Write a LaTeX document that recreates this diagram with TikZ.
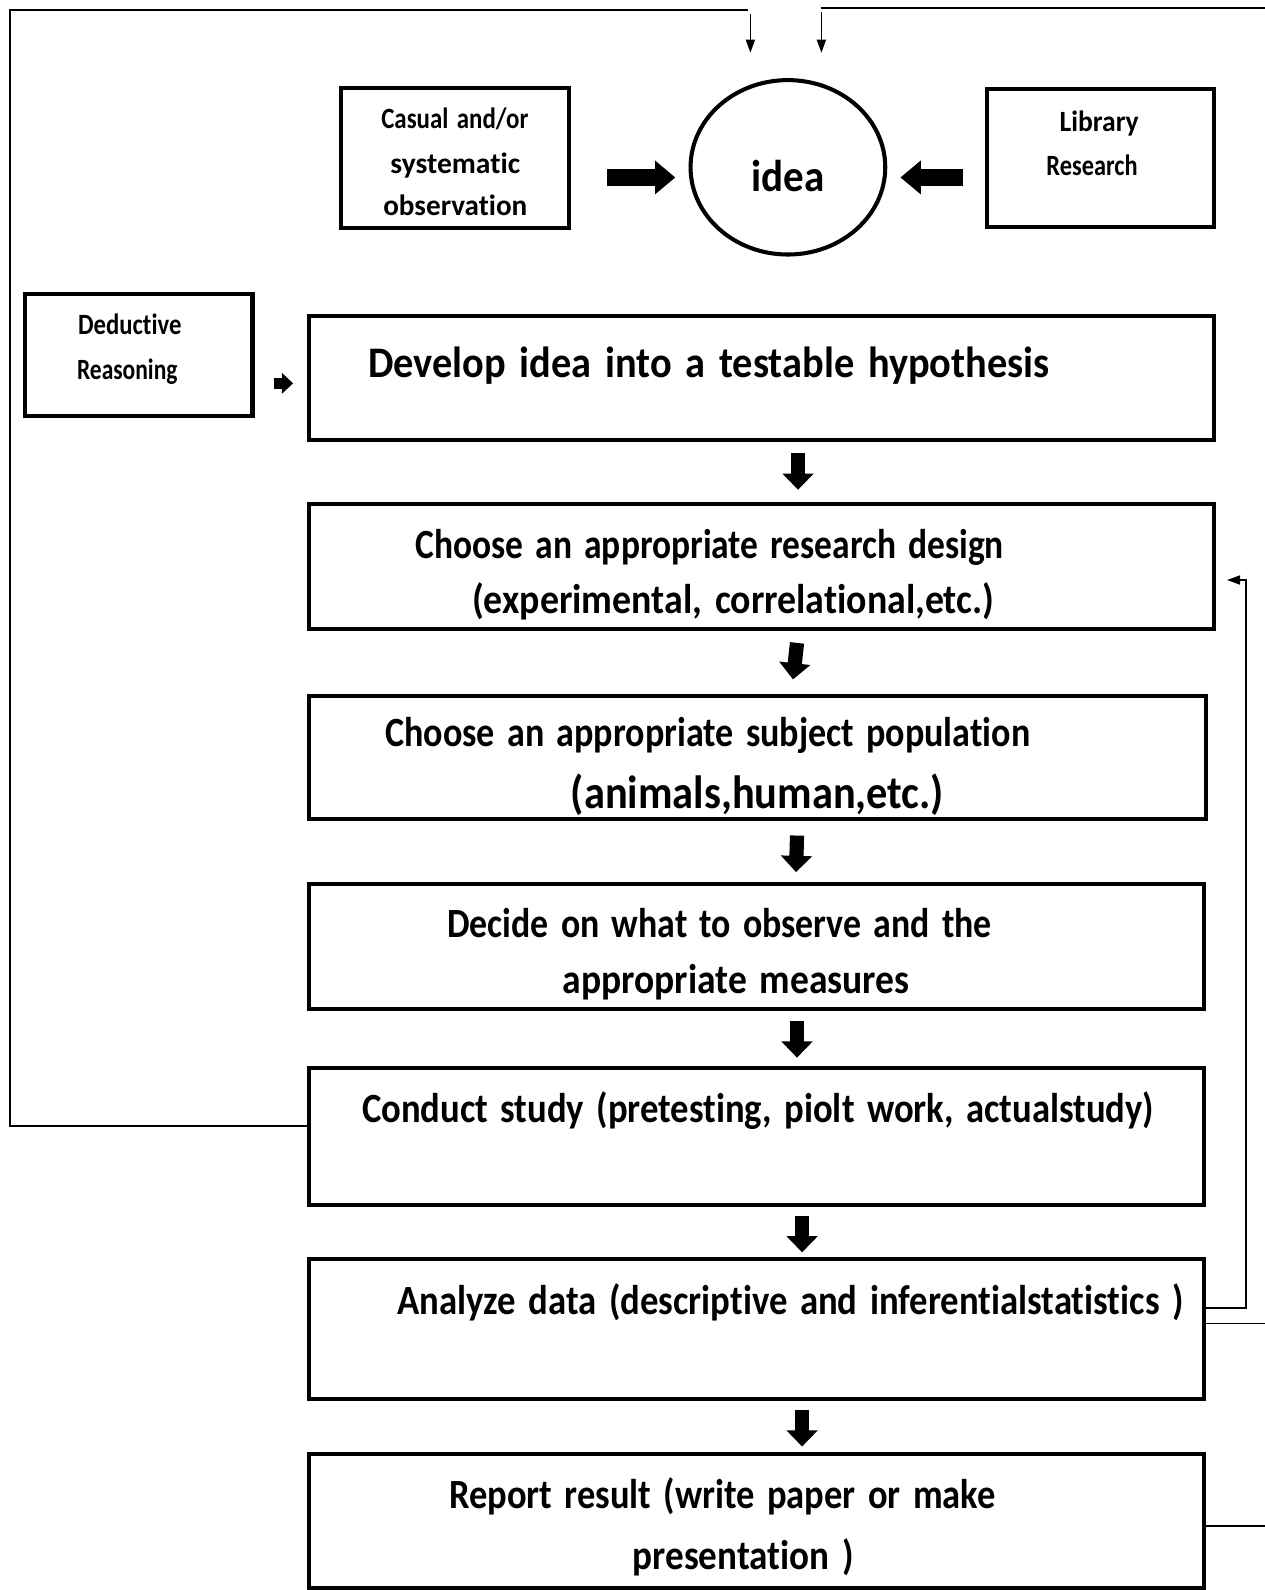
\documentclass[tikz,border=0pt]{standalone}
\usepackage{fontspec}
\setmainfont[Ligatures=NoCommon,WordSpace=1.5]{Carlito}
\usetikzlibrary{arrows.meta,calc,shapes.geometric}
\newcommand{\rw}[2]{\resizebox{#1pt}{\height}{#2}}
\begin{document}
\begin{tikzpicture}[x=1pt,y=-1pt,
 box/.style={draw,line width=4pt,inner sep=0pt},
 thinline/.style={line width=1.6pt},
 tarrow/.style={line width=1.6pt,-{Triangle[width=9pt,length=13pt]}},
 blk/.style={line width=14pt,-{Triangle[width=30pt,length=16pt]}},
 blkh/.style={line width=16pt,-{Triangle[width=32pt,length=20pt]}},
 blks/.style={line width=11pt,-{Triangle[width=20pt,length=11pt]}},
 txt/.style={font=\bfseries\fontsize{#1}{#1}\selectfont, inner sep=0pt, anchor=base},
]
\useasboundingbox (0,0) rectangle (1247,1568);
% boxes
\node[box, minimum width=225pt, minimum height=138pt] (cas) at (448.5,156) {};
\node[box, minimum width=224pt, minimum height=136pt] (lib) at (1085,156) {};
\node[box, minimum width=224pt, minimum height=120pt] (ded) at (137,350) {};
\node[draw, line width=4pt, ellipse, inner sep=0pt, minimum width=192pt, minimum height=172pt] (idea) at (777,165) {};
\node[box, minimum width=892pt, minimum height=122pt] (b1) at (751,373) {};
\node[box, minimum width=892pt, minimum height=123pt] (b2) at (751,558.5) {};
\node[box, minimum width=884pt, minimum height=122pt] (b3) at (747,747) {};
\node[box, minimum width=882pt, minimum height=123pt] (b4) at (746,933.5) {};
\node[box, minimum width=882pt, minimum height=135pt] (b5) at (746,1120.5) {};
\node[box, minimum width=882pt, minimum height=138pt] (b6) at (746,1311) {};
\node[box, minimum width=882pt, minimum height=133pt] (b7) at (746,1500) {};
% texts
\node[txt=29] (t1) at (448.5,127) {\rw{145}{Casual and/or}};
\node[txt=29] (t2) at (449,171) {\rw{128}{systematic}};
\node[txt=29] (t3) at (449,213) {\rw{142}{observation}};
\node[txt=29] (t4) at (1084,130) {\rw{78}{Library}};
\node[txt=29] (t5) at (1077,173) {\rw{90}{Research}};
\node[txt=29] (t6) at (128,330) {\rw{102}{Deductive}};
\node[txt=29] (t7) at (125.5,374) {\rw{99}{Reasoning}};
\node[txt=44] (t8) at (777,189) {\rw{72}{idea}};
\node[txt=43] (t9) at (699,372) {\rw{672}{Develop idea into a testable hypothesis}};
\node[txt=41] (t10) at (700,551) {\rw{580}{Choose an appropriate research design}};
\node[txt=41] (t11) at (723,605) {\rw{515}{(experimental, correlational,etc.)}};
\node[txt=41] (t12) at (698,736) {\rw{636}{Choose an appropriate subject population}};
\node[txt=46] (t13) at (747,797) {\rw{368}{(animals,human,etc.)}};
\node[txt=41] (t14) at (709.5,925) {\rw{537}{Decide on what to observe and the}};
\node[txt=41] (t15) at (726,980) {\rw{342}{appropriate measures}};
\node[txt=41] (t16) at (747.5,1107) {\rw{781}{Conduct study (pretesting, piolt work, actualstudy)}};
\node[txt=41] (t17) at (779.5,1296) {\rw{775}{Analyze data (descriptive and inferentialstatistics )}};
\node[txt=41] (t18) at (712.5,1488) {\rw{539}{Report result (write paper or make}};
\node[txt=41] (t19) at (733,1548) {\rw{218}{presentation )}};
% connectors
\coordinate (la) at (740,14);
\coordinate (lb) at (740,52);
\coordinate (ra) at (810,12);
\coordinate (rb) at (810,52);
\draw[thinline] ([yshift=10pt]b5.west) -| (10,10) -- (738,10);
\draw[tarrow] (la) -- (lb);
\draw[thinline] (810,8) -- (1247,8);
\draw[tarrow] (ra) -- (rb);
\draw[tarrow] ([yshift=21pt]b6.east) -| (1229,572) -- (1210,572);
\draw[thinline] ([yshift=6pt]b6.east) -- (1247,1305);
\draw[thinline] ([yshift=-5pt]b7.east) -- (1247,1505);
% block arrows
\draw[blkh] ([xshift=36pt]cas.east |- 0,175) -- ([xshift=-13pt]idea.west |- 0,175);
\draw[blkh] ([xshift=-21pt]lib.west |- 0,175) -- ([xshift=13pt]idea.east |- 0,175);
\draw[blks] ([xshift=19pt]ded.east |- 0,378) -- ([xshift=-14pt]b1.west |- 0,378);
\draw[blk] ([xshift=36pt,yshift=-11pt]b1.south) -- ([xshift=36pt,yshift=12pt]b2.north);
\draw[blk] ([xshift=35pt,yshift=-12pt]b2.south) -- ([xshift=35pt,yshift=14pt]b3.north);
\draw[blk] ([xshift=39pt,yshift=-14pt]b3.south) -- ([xshift=39pt,yshift=10pt]b4.north);
\draw[blk] ([xshift=40pt,yshift=-10pt]b4.south) -- ([xshift=40pt,yshift=8pt]b5.north);
\draw[blk] ([xshift=45pt,yshift=-9pt]b5.south) -- ([xshift=45pt,yshift=5pt]b6.north);
\draw[blk] ([xshift=45pt,yshift=-8pt]b6.south) -- ([xshift=45pt,yshift=5pt]b7.north);
\end{tikzpicture}
\end{document}
